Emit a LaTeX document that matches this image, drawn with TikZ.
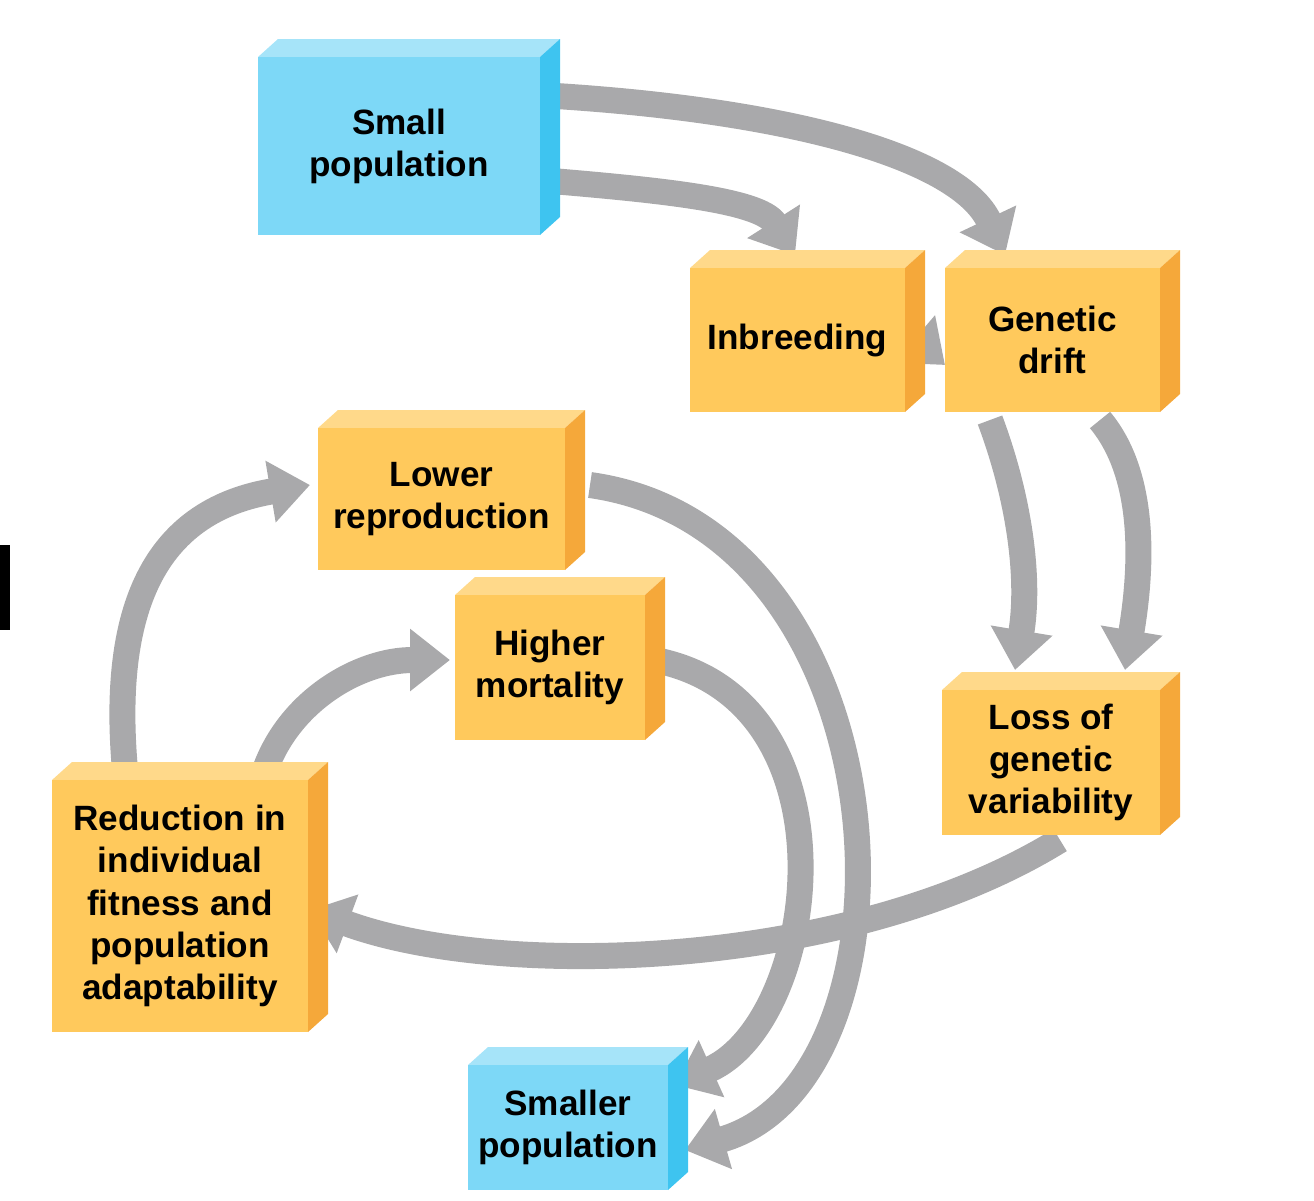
\documentclass[tikz,border=0pt]{standalone}
\usepackage{fontspec}
\setmainfont{Liberation Sans}
\usetikzlibrary{arrows.meta}
\definecolor{bfront}{HTML}{7DD8F7}\definecolor{bside}{HTML}{3EC4F0}\definecolor{btop}{HTML}{A6E4F9}
\definecolor{ofront}{HTML}{FFC95C}\definecolor{oside}{HTML}{F5A83A}\definecolor{otop}{HTML}{FFD98A}
\definecolor{arr}{HTML}{A9A9AB}
\tikzset{
 box/.style={inner sep=0pt,align=center,font=\fontsize{10}{12}\selectfont\bfseries},
 ar/.style={draw=arr,line width=0.26cm,-{Triangle[length=0.4cm,width=0.6cm]}},
}
\newcommand{\cube}[7]{% name, x1,y1,x2,y2, front,side,top via #6 prefix, text #7
 \fill[#6top] (#2,-#3) -- ++(0.2,0.18) -- (#4+0.2,-#3+0.18) -- (#4,-#3) -- cycle;
 \fill[#6side] (#4,-#3) -- (#4+0.2,-#3+0.18) -- (#4+0.2,-#5+0.18) -- (#4,-#5) -- cycle;
 \fill[#6front] (#2,-#3) rectangle (#4,-#5);
 \node[box,minimum width={(#4-#2)*1cm},minimum height={(#5-#3)*1cm}] (#1) at ({(#2+#4)/2},{-(#3+#5)/2}) {#7};
}
\begin{document}
\begin{tikzpicture}
\useasboundingbox (0,0) rectangle (13.14,-12);
\fill[black] (0,-5.45) rectangle (0.1,-6.3);
% arrows behind
\draw[ar] (5.4,-0.95) .. controls (8,-1.1) and (9.6,-1.6) .. (10.05,-2.55);
\draw[ar] (5.4,-1.8) .. controls (6.6,-1.9) and (7.6,-2.0) .. (7.95,-2.55);
\draw[ar] (9.9,-4.2) .. controls (10.2,-5) and (10.3,-5.8) .. (10.15,-6.7);
\draw[ar] (11,-4.2) .. controls (11.5,-4.8) and (11.4,-5.8) .. (11.25,-6.7);
\draw[ar] (5.9,-4.85) .. controls (9.1,-5.3) and (9.3,-10.8) .. (6.85,-11.5);
\draw[ar] (6.55,-6.6) .. controls (8.6,-7) and (8.2,-10.2) .. (6.75,-10.85);
\draw[ar] (10.6,-8.4) .. controls (8.5,-9.7) and (5,-9.8) .. (3.1,-9.1);
\draw[ar] (1.25,-7.7) .. controls (1.1,-6) and (1.6,-5.1) .. (3.1,-4.85);
\draw[ar] (2.65,-7.7) .. controls (2.9,-7) and (3.6,-6.6) .. (4.5,-6.6);
\draw[ar] (9.1,-3.35) -- (9.45,-3.65);
\cube{sp}{2.58}{0.57}{5.4}{2.35}{b}{Small\\population}
\cube{inb}{6.9}{2.68}{9.05}{4.12}{o}{Inbreeding}
\cube{gd}{9.45}{2.68}{11.6}{4.12}{o}{Genetic\\drift}
\cube{lr}{3.18}{4.28}{5.65}{5.7}{o}{Lower\\reproduction}
\cube{hm}{4.55}{5.95}{6.45}{7.4}{o}{Higher\\mortality}
\cube{lgv}{9.42}{6.9}{11.6}{8.35}{o}{Loss of\\genetic\\variability}
\cube{red}{0.52}{7.8}{3.08}{10.32}{o}{Reduction in\\individual\\fitness and\\population\\adaptability}
\cube{smp}{4.68}{10.65}{6.68}{11.9}{b}{Smaller\\population}
\end{tikzpicture}
\end{document}
